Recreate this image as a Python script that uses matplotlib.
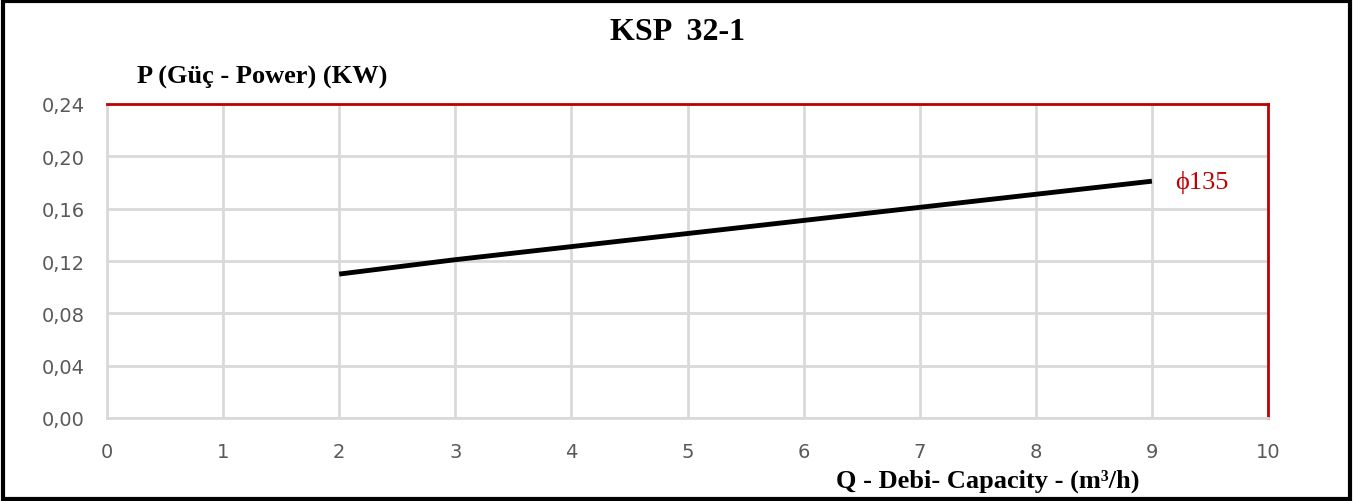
import matplotlib
matplotlib.use('Agg')
import matplotlib.pyplot as plt
from matplotlib.patches import Rectangle

# data
q = [2, 3, 4, 5, 6, 7, 8, 9]
p = [0.110, 0.121, 0.131, 0.141, 0.151, 0.161, 0.171, 0.181]
xticks = [0, 1, 2, 3, 4, 5, 6, 7, 8, 9, 10]
yticks = [0.00, 0.04, 0.08, 0.12, 0.16, 0.20, 0.24]
ytick_labels = ['0,00', '0,04', '0,08', '0,12', '0,16', '0,20', '0,24']
curve_label = '\u03d5135'

fig = plt.figure(figsize=(13.54, 5.02), dpi=100)
ax = fig.add_axes([107 / 1354, 1 - 419 / 502, (1268 - 107) / 1354, (419 - 105) / 502])

ax.plot(q, p, color='black', linewidth=3.5, solid_capstyle='butt', zorder=3)

ax.set_xlim(0, 10)
ax.set_ylim(0, 0.24)
ax.set_xticks(xticks)
ax.set_yticks(yticks)
ax.set_yticklabels(ytick_labels)
ax.tick_params(length=0, labelsize=14, colors='#595959')
ax.tick_params(axis='x', pad=17)
ax.tick_params(axis='y', pad=16)
ax.grid(True, color='#d9d9d9', linewidth=2)
ax.set_axisbelow(True)

for s in ['left', 'bottom']:
    ax.spines[s].set_color('#d9d9d9')
    ax.spines[s].set_linewidth(2)
for s in ['top', 'right']:
    ax.spines[s].set_color('#c00000')
    ax.spines[s].set_linewidth(2)

ax.text(9.2, 0.181, curve_label, color='#c00000', fontsize=19,
        family='Liberation Serif', va='center', ha='left')

fig.text(0.5, 1 - 33 / 502, 'KSP  32-1', fontsize=23, fontweight='bold',
         family='Liberation Serif', ha='center', va='center')
fig.text(137 / 1354, 1 - 77 / 502, 'P (G\u00fc\u00e7 - Power) (KW)', fontsize=19,
         fontweight='bold', family='Liberation Serif', ha='left', va='center')
fig.text(1140 / 1354, 1 - 481 / 502, 'Q - Debi- Capacity - (m\u00b3/h)', fontsize=19,
         fontweight='bold', family='Liberation Serif', ha='right', va='center')

# outer frame
fig.patches.append(Rectangle((0.002, 0.003), 0.995, 0.993, transform=fig.transFigure,
                             fill=False, edgecolor='black', linewidth=3))

fig.savefig('out.png', dpi=100)
